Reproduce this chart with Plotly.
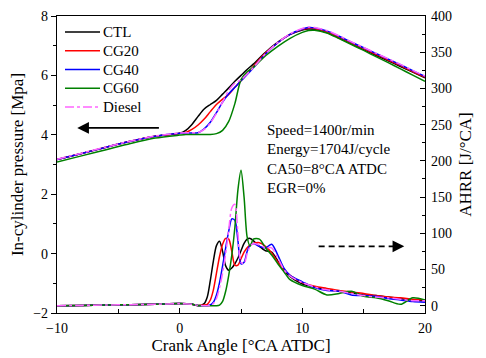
import plotly.graph_objects as go

# ---------------- data ----------------
series_names = ["CTL", "CG20", "CG40", "CG60", "Diesel"]
series_colors = ["#000000", "#FF0000", "#0000FF", "#008000", "#FF66FF"]
series_dash = ["solid", "solid", "solid", "solid", "dashdot"]

# crank angle for pressure
p_ca = [-10, -8, -6, -4, -2, 0, 0.5, 1, 1.5, 2, 2.5, 3, 3.5, 4, 4.5, 5, 5.5, 6,
        7, 8, 9, 10, 10.5, 11, 12, 13, 14, 15, 16, 17, 18, 19, 20]

p_ctl = [3.17, 3.37, 3.58, 3.78, 3.95, 4.05, 4.15, 4.35, 4.62, 4.87, 5.02, 5.16, 5.37, 5.58, 5.80, 6.00, 6.20, 6.38,
         6.78, 7.12, 7.38, 7.53, 7.56, 7.55, 7.44, 7.26, 7.06, 6.87, 6.68, 6.49, 6.30, 6.11, 5.92]
p_cg20 = [3.17, 3.37, 3.58, 3.78, 3.95, 4.05, 4.08, 4.18, 4.33, 4.53, 4.78, 5.02, 5.20, 5.36, 5.60, 5.82, 6.05, 6.30,
          6.75, 7.10, 7.38, 7.55, 7.59, 7.58, 7.47, 7.29, 7.09, 6.90, 6.71, 6.52, 6.33, 6.13, 5.94]
p_cg40 = [3.17, 3.37, 3.58, 3.78, 3.95, 4.05, 4.06, 4.06, 4.07, 4.20, 4.42, 4.75, 5.10, 5.38, 5.60, 5.82, 6.03, 6.25,
          6.72, 7.10, 7.38, 7.56, 7.61, 7.60, 7.50, 7.32, 7.12, 6.93, 6.74, 6.55, 6.36, 6.16, 5.97]
p_cg60 = [3.08, 3.29, 3.50, 3.71, 3.89, 3.99, 4.01, 4.01, 4.01, 4.01, 4.01, 4.04, 4.15, 4.45, 5.05, 5.86, 6.12, 6.27,
          6.66, 6.98, 7.25, 7.45, 7.51, 7.52, 7.43, 7.24, 7.04, 6.84, 6.63, 6.43, 6.22, 6.01, 5.80]
p_diesel = [3.18, 3.38, 3.59, 3.79, 3.96, 4.06, 4.07, 4.07, 4.08, 4.18, 4.40, 4.72, 5.10, 5.50, 5.74, 5.85, 6.05, 6.26,
            6.73, 7.11, 7.40, 7.58, 7.63, 7.61, 7.51, 7.33, 7.13, 6.94, 6.75, 6.56, 6.37, 6.17, 5.98]

# crank angle for AHRR
h_ca = [-10, -8, -6, -4, -2, 0, 1, 1.5, 2, 2.25, 2.5, 2.75, 3, 3.25, 3.5, 3.75, 4, 4.25, 4.5, 4.75,
        5, 5.25, 5.5, 5.75, 6, 6.5, 7, 7.5, 8, 8.5, 9, 10, 11, 12, 13, 14, 15, 16, 17, 18, 19, 20]

h_ctl = [0, 0.5, 1, 1.5, 2, 3, 2, 0, 3, 12, 35, 62, 83, 89, 75, 55, 49, 52, 58, 66,
         76, 86, 92, 93, 90, 82, 76, 74, 62, 49, 40, 30, 26, 22, 20, 18, 15, 14, 12, 10, 8, 7]
h_cg20 = [0, 0.5, 1, 1.5, 2, 3, 2, 0.5, 1, 2, 8, 22, 45, 68, 85, 93, 92, 75, 56, 56,
          65, 74, 80, 84, 86, 87, 82, 73, 60, 50, 42, 32, 27, 24, 21, 19, 17, 14, 12, 11, 9, 8]
h_cg40 = [0, 0.5, 1, 1.5, 2, 3, 2, 0.5, 0, 0, 1, 5, 15, 32, 55, 80, 103, 120, 118, 90,
          58, 60, 75, 84, 86, 82, 80, 85, 70, 52, 42, 33, 25, 21, 20, 15, 14, 13, 10, 8, 6, 5]
h_cg60 = [0, 0.5, 1, 1.5, 2, 3, 2, 0.5, 0, 0, 0, 0, 0, 1, 6, 20, 42, 70, 108, 160,
          187, 150, 95, 82, 92, 92, 80, 70, 58, 47, 36, 28, 23, 15, 17, 20, 13, 11, 7, 2, 11, 8]
h_diesel = [0, 0.5, 1, 1.5, 2, 3, 2, 0.5, 0, 0, 0, 3, 10, 25, 45, 72, 105, 135, 140, 100,
            60, 58, 72, 82, 86, 84, 80, 80, 66, 50, 41, 32, 26, 22, 20, 17, 14, 12, 11, 9, 7, 7]

notes = ["Speed=1400r/min", "Energy=1704J/cycle", "CA50=8°CA ATDC", "EGR=0%"]

x_title = "Crank Angle [°CA ATDC]"
y_title = "In-cylinder pressure [Mpa]"
y2_title = "AHRR [J/°CA]"

# ---------------- figure ----------------
FONT = "Liberation Serif"
pressures = [p_ctl, p_cg20, p_cg40, p_cg60, p_diesel]
hrrs = [h_ctl, h_cg20, h_cg40, h_cg60, h_diesel]

fig = go.Figure()
for name, col, dash, p in zip(series_names, series_colors, series_dash, pressures):
    fig.add_trace(go.Scatter(x=p_ca, y=p, name=name, mode="lines", legendgroup=name, showlegend=False,
                             line=dict(color=col, width=1.5, dash=dash, shape="spline", smoothing=0.8),
                             yaxis="y"))
for name, col, dash, h in zip(series_names, series_colors, series_dash, hrrs):
    fig.add_trace(go.Scatter(x=h_ca, y=h, name=name, mode="lines", legendgroup=name, showlegend=False,
                             line=dict(color=col, width=1.5, dash=dash, shape="spline", smoothing=0.8),
                             yaxis="y2"))

axis_common = dict(showline=True, linecolor="black", linewidth=1.3, showgrid=False, zeroline=False,
                   automargin=False,
                   tickfont=dict(family=FONT, size=14, color="black"), ticklen=5, tickwidth=1.2,
                   tickcolor="black")

# page has an 8px body margin, so the figure is laid out 8px smaller/offset
OFF = 8
W, H = 486 - OFF, 358 - OFF
L, T = 57 - OFF, 16 - OFF
R = W - (425 - OFF)
B = H - (313 - OFF)
PW, PH = W - L - R, H - T - B

def px_x(px):
    return (px - OFF - L) / PW

def px_y(py):
    return 1 - (py - OFF - T) / PH

fig.update_layout(
    width=W, height=H,
    margin=dict(l=L, r=R, t=T, b=B, autoexpand=False),
    paper_bgcolor="white", plot_bgcolor="white",
    font=dict(family=FONT, color="black"),
    xaxis=dict(range=[-10, 20], dtick=10, ticks="inside", mirror=True,
               title=dict(text=x_title, font=dict(family=FONT, size=17), standoff=4),
               minor=dict(dtick=5, ticks="inside", ticklen=4, tickcolor="black", tickwidth=1.1),
               ticklabelstandoff=2,
               **axis_common),
    yaxis=dict(range=[-2, 8], dtick=2, ticks="outside",
               title=dict(text=y_title, font=dict(family=FONT, size=17), standoff=6),
               minor=dict(dtick=1, ticks="outside", ticklen=3, tickcolor="black", tickwidth=1.1),
               **axis_common),
    yaxis2=dict(range=[-10, 400], dtick=50, ticks="inside", overlaying="y", side="right",
                title=dict(text=y2_title, font=dict(family=FONT, size=17), standoff=8),
                minor=dict(dtick=25, ticks="inside", ticklen=3, tickcolor="black", tickwidth=1.1),
                ticklabelstandoff=2,
                **axis_common),
    showlegend=False,
)

# legend drawn as line samples + labels (paper coordinates)
for i, (name, col, dash) in enumerate(zip(series_names, series_colors, series_dash)):
    yc = px_y(32 + i * 18.75)
    fig.add_shape(type="line", xref="paper", yref="paper",
                  x0=px_x(65), x1=px_x(100), y0=yc, y1=yc,
                  line=dict(color=col, width=1.5, dash=dash))
    fig.add_annotation(xref="paper", yref="paper", x=px_x(101), y=yc, text=name,
                       showarrow=False, xanchor="left", yanchor="middle",
                       font=dict(family=FONT, size=15, color="black"))

# text notes
for i, t in enumerate(notes):
    fig.add_annotation(xref="paper", yref="paper", x=px_x(265), y=px_y(130 + i * 19.3),
                       text=t, showarrow=False, xanchor="left", yanchor="middle",
                       font=dict(family=FONT, size=15, color="black"))

# solid arrow pointing left (pressure axis)
fig.add_annotation(x=-8.35, y=4.23, ax=-1.57, ay=4.23, xref="x", yref="y", axref="x", ayref="y",
                   text="", showarrow=True, arrowhead=2, arrowsize=1.3, arrowwidth=1.8, arrowcolor="black")

# dashed arrow pointing right (AHRR axis)
fig.add_shape(type="line", x0=11.33, x1=17.4, y0=0.246, y1=0.246, xref="x", yref="y",
              line=dict(color="black", width=1.8, dash="6px,4px"))
fig.add_annotation(x=18.31, y=0.246, ax=17.3, ay=0.246, xref="x", yref="y", axref="x", ayref="y",
                   text="", showarrow=True, arrowhead=2, arrowsize=1.3, arrowwidth=1.8, arrowcolor="black")

fig.write_html("out.html")
